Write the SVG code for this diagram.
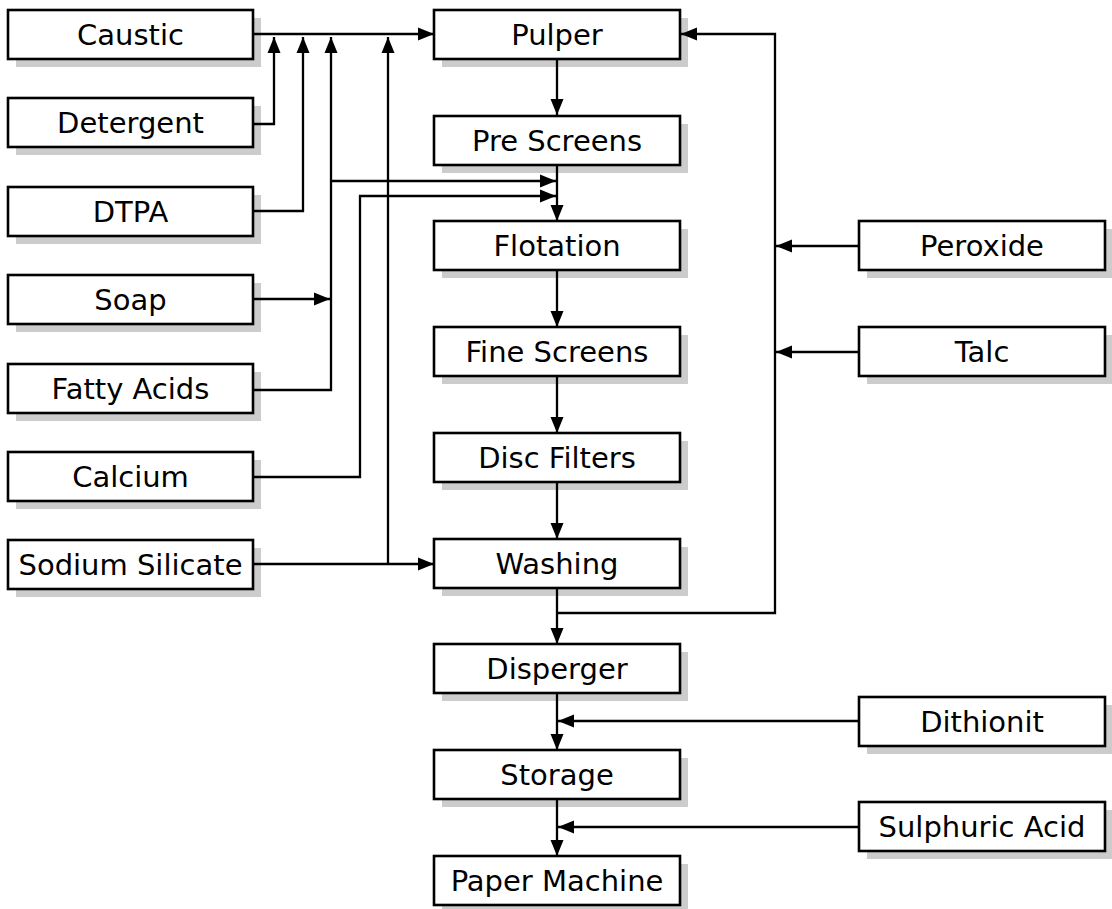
<svg xmlns="http://www.w3.org/2000/svg" width="1112" height="909" viewBox="0 0 1112 909">
<defs>
<marker id="ah" markerWidth="16" markerHeight="14" refX="16" refY="7" orient="auto" markerUnits="userSpaceOnUse"><path d="M0,0.5 L16,7 L0,13.5 z" fill="#000"/></marker>
</defs>
<style>
.sh{fill:#cccccc;stroke:none}
.bx{fill:#fff;stroke:#000;stroke-width:2.6}
.t{font-family:"DejaVu Sans","Liberation Sans",sans-serif;font-size:29px;fill:#000;text-anchor:middle}
.c{fill:none;stroke:#000;stroke-width:2.3}
.a{marker-end:url(#ah)}
</style>
<rect width="1112" height="909" fill="#fff"/>
<g id="caustic"><rect class="sh" x="16" y="18" width="245" height="49"/><rect class="bx" x="8" y="10" width="245" height="49"/><text class="t" x="130.5" y="45">Caustic</text></g>
<g id="detergent"><rect class="sh" x="16" y="106" width="245" height="49"/><rect class="bx" x="8" y="98" width="245" height="49"/><text class="t" x="130.5" y="133">Detergent</text></g>
<g id="dtpa"><rect class="sh" x="16" y="195" width="245" height="49"/><rect class="bx" x="8" y="187" width="245" height="49"/><text class="t" x="130.5" y="222">DTPA</text></g>
<g id="soap"><rect class="sh" x="16" y="283" width="245" height="49"/><rect class="bx" x="8" y="275" width="245" height="49"/><text class="t" x="130.5" y="310">Soap</text></g>
<g id="fatty-acids"><rect class="sh" x="16" y="372" width="245" height="49"/><rect class="bx" x="8" y="364" width="245" height="49"/><text class="t" x="130.5" y="399">Fatty Acids</text></g>
<g id="calcium"><rect class="sh" x="16" y="460" width="245" height="49"/><rect class="bx" x="8" y="452" width="245" height="49"/><text class="t" x="130.5" y="487">Calcium</text></g>
<g id="sodium-silicate"><rect class="sh" x="16" y="548" width="245" height="49"/><rect class="bx" x="8" y="540" width="245" height="49"/><text class="t" x="130.5" y="575">Sodium Silicate</text></g>
<g id="pulper"><rect class="sh" x="442" y="18" width="246" height="49"/><rect class="bx" x="434" y="10" width="246" height="49"/><text class="t" x="557" y="45">Pulper</text></g>
<g id="pre-screens"><rect class="sh" x="442" y="124" width="246" height="49"/><rect class="bx" x="434" y="116" width="246" height="49"/><text class="t" x="557" y="151">Pre Screens</text></g>
<g id="flotation"><rect class="sh" x="442" y="229" width="246" height="49"/><rect class="bx" x="434" y="221" width="246" height="49"/><text class="t" x="557" y="256">Flotation</text></g>
<g id="fine-screens"><rect class="sh" x="442" y="335" width="246" height="49"/><rect class="bx" x="434" y="327" width="246" height="49"/><text class="t" x="557" y="362">Fine Screens</text></g>
<g id="disc-filters"><rect class="sh" x="442" y="441" width="246" height="49"/><rect class="bx" x="434" y="433" width="246" height="49"/><text class="t" x="557" y="468">Disc Filters</text></g>
<g id="washing"><rect class="sh" x="442" y="547" width="246" height="49"/><rect class="bx" x="434" y="539" width="246" height="49"/><text class="t" x="557" y="574">Washing</text></g>
<g id="disperger"><rect class="sh" x="442" y="652" width="246" height="49"/><rect class="bx" x="434" y="644" width="246" height="49"/><text class="t" x="557" y="679">Disperger</text></g>
<g id="storage"><rect class="sh" x="442" y="758" width="246" height="49"/><rect class="bx" x="434" y="750" width="246" height="49"/><text class="t" x="557" y="785">Storage</text></g>
<g id="paper-machine"><rect class="sh" x="442" y="864" width="246" height="49"/><rect class="bx" x="434" y="856" width="246" height="49"/><text class="t" x="557" y="891">Paper Machine</text></g>
<g id="peroxide"><rect class="sh" x="867" y="229" width="246" height="49"/><rect class="bx" x="859" y="221" width="246" height="49"/><text class="t" x="982" y="256">Peroxide</text></g>
<g id="talc"><rect class="sh" x="867" y="335" width="246" height="49"/><rect class="bx" x="859" y="327" width="246" height="49"/><text class="t" x="982" y="362">Talc</text></g>
<g id="dithionit"><rect class="sh" x="867" y="705" width="246" height="49"/><rect class="bx" x="859" y="697" width="246" height="49"/><text class="t" x="982" y="732">Dithionit</text></g>
<g id="sulphuric-acid"><rect class="sh" x="867" y="810" width="246" height="49"/><rect class="bx" x="859" y="802" width="246" height="49"/><text class="t" x="982" y="837">Sulphuric Acid</text></g>
<g id="connectors">
<path class="c a" d="M254,34 H434"/>
<path class="c a" d="M254,124 H274 V37"/>
<path class="c a" d="M254,211 H303 V37"/>
<path class="c a" d="M254,390 H331 V37"/>
<path class="c a" d="M254,299 H330"/>
<path class="c a" d="M331,181 H556"/>
<path class="c a" d="M254,477 H360 V196 H556"/>
<path class="c a" d="M388,564 V37"/>
<path class="c a" d="M254,564 H434"/>
<path class="c a" d="M557,60 V115"/>
<path class="c a" d="M557,166 V221"/>
<path class="c a" d="M557,271 V327"/>
<path class="c a" d="M557,377 V433"/>
<path class="c a" d="M557,483 V539"/>
<path class="c a" d="M557,589 V644"/>
<path class="c a" d="M557,613 H775 V34 H681"/>
<path class="c a" d="M859,246 H776"/>
<path class="c a" d="M859,352 H776"/>
<path class="c a" d="M557,694 V750"/>
<path class="c a" d="M859,721 H558"/>
<path class="c a" d="M557,800 V856"/>
<path class="c a" d="M859,827 H558"/>
</g>
</svg>
